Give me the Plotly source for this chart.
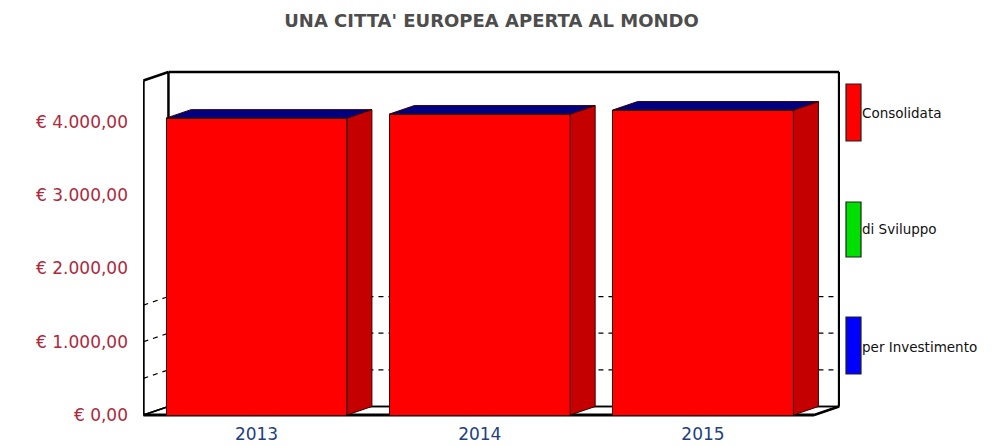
import plotly.graph_objects as go

# ---- data -------------------------------------------------------------
years = ["2013", "2014", "2015"]
consolidata = [4050, 4105, 4160]
sviluppo = [0, 0, 0]
investimento = [0, 0, 0]
series_names = ["Consolidata", "di Sviluppo", "per Investimento"]
y_tickvals = [0, 1000, 2000, 3000, 4000]
y_ticktext = ["€ 0,00", "€ 1.000,00", "€ 2.000,00", "€ 3.000,00", "€ 4.000,00"]
grid_vals = [500, 1000, 1500]

# ---- styling / geometry ----------------------------------------------
W, H = 999, 446
ML, MR, MT, MB = 143, 159, 60, 26
PW, PH = W - ML - MR, H - MT - MB
RED, GREEN, BLUE = "#ff0000", "#00e000", "#0000ff"
SIDE, TOP = "#c40000", "#000080"
EDGE = "#3a0000"

X_RANGE = [-0.5084, 2.6137]
Y_RANGE = [-68, 4843]
BAR_W = 0.81
DX = 25 * (X_RANGE[1] - X_RANGE[0]) / PW      # depth offset (x units)
DY = 8.5 * (Y_RANGE[1] - Y_RANGE[0]) / PH     # depth offset (y units)
WALL_TOP = 4680

xpos = list(range(len(years)))
totals = [a + b + c for a, b, c in zip(consolidata, sviluppo, investimento)]

fig = go.Figure()

# front faces
fig.add_trace(go.Bar(x=xpos, y=consolidata, width=BAR_W, marker=dict(color=RED, line=dict(color=EDGE, width=1)),
                     showlegend=False, hoverinfo="skip"))
fig.add_trace(go.Bar(x=xpos, y=sviluppo, width=BAR_W, marker=dict(color=GREEN, line=dict(width=0)),
                     showlegend=False, hoverinfo="skip"))
fig.add_trace(go.Bar(x=xpos, y=investimento, width=BAR_W, marker=dict(color=BLUE, line=dict(width=0)),
                     showlegend=False, hoverinfo="skip"))

# side and top faces of each column
sx, sy, tx, ty = [], [], [], []
for x, v in zip(xpos, totals):
    xl, xr = x - BAR_W / 2, x + BAR_W / 2
    sx += [xr, xr + DX, xr + DX, xr, xr, None]
    sy += [0, DY, v + DY, v, 0, None]
    tx += [xl, xl + DX, xr + DX, xr, xl, None]
    ty += [v, v + DY, v + DY, v, v, None]
fig.add_trace(go.Scatter(x=sx, y=sy, mode="lines", fill="toself", fillcolor=SIDE,
                         line=dict(color=EDGE, width=1), showlegend=False, hoverinfo="skip"))
fig.add_trace(go.Scatter(x=tx, y=ty, mode="lines", fill="toself", fillcolor=TOP,
                         line=dict(color=EDGE, width=1), showlegend=False, hoverinfo="skip"))

# ---- 3D frame (walls and floor) --------------------------------------
x0, x1 = X_RANGE[0] + 0.002, X_RANGE[1] - 0.004
shapes = []


def seg(xa, ya, xb, yb, dash=None, width=2.5, layer="below"):
    shapes.append(dict(type="line", xref="x", yref="y", x0=xa, y0=ya, x1=xb, y1=yb, layer=layer,
                       line=dict(color="black", width=width, dash=dash)))


# floor and back wall
shapes.append(dict(type="path", xref="x", yref="y", layer="below",
                   path=f"M{x0},0 L{x1 - DX},0 L{x1},{DY} L{x0 + DX},{DY} Z",
                   fillcolor="white", line=dict(color="black", width=1.5)))
seg(x0 + DX, DY, x1, DY, width=1.5)
seg(x0 + DX, WALL_TOP, x1, WALL_TOP)
seg(x1, WALL_TOP, x1, DY)
seg(x0 + DX, WALL_TOP, x0 + DX, DY)
seg(x1, DY, x1 - DX, 0)
seg(x0, 0, x1 - DX, 0, width=3)
# left wall
seg(x0, 0, x0, WALL_TOP - DY, layer="above")
seg(x0, WALL_TOP - DY, x0 + DX, WALL_TOP, layer="above")
seg(x0, 0, x0 + DX, DY, width=1.5)

# dashed grid on back and left walls
for g in grid_vals:
    seg(x0 + DX, g + DY, x1, g + DY, dash="5px,5px", width=1.2)
    seg(x0, g, x0 + DX, g + DY, dash="5px,5px", width=1.2)

# ---- legend drawn as tall swatches -----------------------------------
def px_x(p):
    return (p - ML) / PW


def px_y(p):
    return (H - MB - p) / PH


annotations = []
swatches = [(84, 141, RED, 113), (202, 257, GREEN, 229), (317, 374, BLUE, 347)]
for (top, bot, col, ty_), name in zip(swatches, series_names):
    shapes.append(dict(type="rect", xref="paper", yref="paper", x0=px_x(846), x1=px_x(861),
                       y0=px_y(bot), y1=px_y(top), fillcolor=col, line=dict(color="#202020", width=1.2)))
    annotations.append(dict(xref="paper", yref="paper", x=px_x(861), y=px_y(ty_), text=name,
                            showarrow=False, xanchor="left", yanchor="middle", xshift=-1,
                            font=dict(family="DejaVu Sans", size=13.5, color="#111111")))

fig.update_layout(
    width=W, height=H,
    margin=dict(l=ML, r=MR, t=MT, b=MB, autoexpand=False),
    paper_bgcolor="white", plot_bgcolor="white",
    barmode="stack",
    title=dict(text="<b>UNA CITTA' EUROPEA APERTA AL MONDO</b>", x=0.5, xref="paper", xanchor="center",
               y=1 - 21 / H, yref="container", yanchor="middle",
               font=dict(family="DejaVu Sans", size=18, color="#4d4d4d")),
    xaxis=dict(range=X_RANGE, tickvals=xpos, ticktext=years, showgrid=False, zeroline=False,
               showline=False, ticks="", ticklabelstandoff=2, automargin=False,
               tickfont=dict(family="DejaVu Sans", size=17, color="#22407f")),
    yaxis=dict(range=Y_RANGE, tickvals=y_tickvals, ticktext=y_ticktext, showgrid=False, zeroline=False,
               showline=False, ticks="", ticklabelstandoff=14, automargin=False,
               tickfont=dict(family="DejaVu Sans", size=17, color="#b0283a")),
    shapes=shapes,
    annotations=annotations,
)

fig.write_html("out.html")
